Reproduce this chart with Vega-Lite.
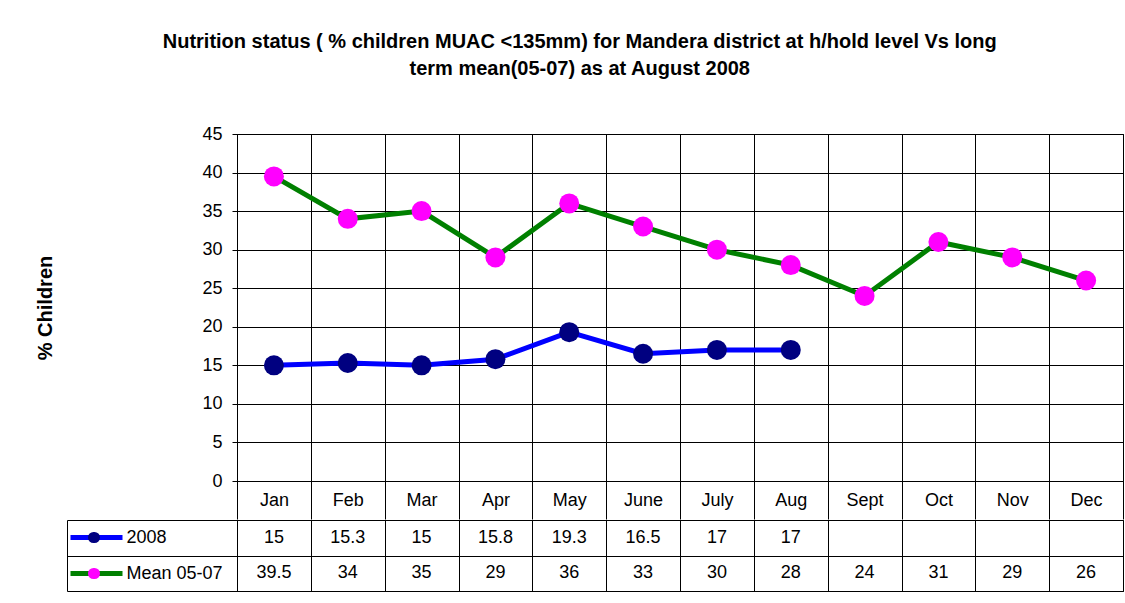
{
  "$schema": "https://vega.github.io/schema/vega-lite/v6.json",
  "padding": {"left": 35, "top": 31, "right": 0, "bottom": 0},
  "background": "#ffffff",
  "config": {
    "font": "Liberation Sans",
    "view": {"stroke": "#000000", "strokeWidth": 1},
    "axis": {"labelColor": "#000000", "tickColor": "#000000", "domainColor": "#000000", "gridColor": "#000000", "gridOpacity": 1, "titleColor": "#000000"}
  },
  "title": {
    "text": ["Nutrition status ( % children MUAC <135mm) for Mandera district at h/hold level Vs long", "term mean(05-07) as at August 2008"],
    "fontSize": 20,
    "fontWeight": "bold",
    "color": "#000000",
    "anchor": "middle",
    "lineHeight": 27,
    "offset": 46
  },
  "datasets": {
    "d": [
      {"month": "Jan", "series": "2008", "value": 15},
      {"month": "Feb", "series": "2008", "value": 15.3},
      {"month": "Mar", "series": "2008", "value": 15},
      {"month": "Apr", "series": "2008", "value": 15.8},
      {"month": "May", "series": "2008", "value": 19.3},
      {"month": "June", "series": "2008", "value": 16.5},
      {"month": "July", "series": "2008", "value": 17},
      {"month": "Aug", "series": "2008", "value": 17},
      {"month": "Jan", "series": "Mean 05-07", "value": 39.5},
      {"month": "Feb", "series": "Mean 05-07", "value": 34},
      {"month": "Mar", "series": "Mean 05-07", "value": 35},
      {"month": "Apr", "series": "Mean 05-07", "value": 29},
      {"month": "May", "series": "Mean 05-07", "value": 36},
      {"month": "June", "series": "Mean 05-07", "value": 33},
      {"month": "July", "series": "Mean 05-07", "value": 30},
      {"month": "Aug", "series": "Mean 05-07", "value": 28},
      {"month": "Sept", "series": "Mean 05-07", "value": 24},
      {"month": "Oct", "series": "Mean 05-07", "value": 31},
      {"month": "Nov", "series": "Mean 05-07", "value": 29},
      {"month": "Dec", "series": "Mean 05-07", "value": 26}
    ]
  },
  "spacing": -11,
  "vconcat": [
    {
      "width": 886,
      "height": 347,
      "data": {"name": "d"},
      "encoding": {
        "x": {
          "field": "month", "type": "nominal",
          "scale": {"type": "band", "paddingInner": 0, "paddingOuter": 0, "domain": ["Jan", "Feb", "Mar", "Apr", "May", "June", "July", "Aug", "Sept", "Oct", "Nov", "Dec"]},
          "axis": {"title": null, "orient": "bottom", "tickBand": "extent", "tickSize": 38, "labelPadding": -28, "labelAngle": 0, "labelFontSize": 18, "grid": true}
        },
        "y": {
          "field": "value", "type": "quantitative",
          "scale": {"domain": [0, 45], "nice": false},
          "axis": {"values": [0, 5, 10, 15, 20, 25, 30, 35, 40, 45], "title": "% Children", "titleFontSize": 20, "titleFontWeight": "bold", "titlePadding": 146, "labelFontSize": 18, "labelPadding": 10, "tickSize": 5, "grid": true}
        }
      },
      "layer": [
        {
          "mark": {"type": "line", "strokeWidth": 5},
          "encoding": {
            "stroke": {
              "field": "series", "type": "nominal",
              "scale": {"domain": ["2008", "Mean 05-07"], "range": ["#0000FF", "#008000"]},
              "legend": null
            }
          }
        },
        {
          "mark": {"type": "point", "filled": true, "shape": "circle", "size": 400, "opacity": 1},
          "encoding": {
            "fill": {
              "field": "series", "type": "nominal",
              "scale": {"domain": ["2008", "Mean 05-07"], "range": ["#000080", "#FF00FF"]},
              "legend": null
            }
          }
        }
      ]
    },
    {
      "width": 886,
      "height": 71,
      "data": {"name": "d"},
      "encoding": {
        "x": {
          "field": "month", "type": "nominal",
          "scale": {"type": "band", "paddingInner": 0, "paddingOuter": 0, "domain": ["Jan", "Feb", "Mar", "Apr", "May", "June", "July", "Aug", "Sept", "Oct", "Nov", "Dec"]},
          "axis": {"title": null, "labels": false, "ticks": false, "domain": false, "grid": true, "tickBand": "extent"}
        }
      },
      "layer": [
        {
          "mark": {"type": "text", "fontSize": 18, "color": "#000000"},
          "encoding": {
            "text": {"field": "value", "type": "quantitative"},
            "y": {
              "field": "series", "type": "nominal",
              "scale": {"domain": ["2008", "Mean 05-07"], "paddingInner": 0, "paddingOuter": 0},
              "axis": {"title": null, "orient": "left", "tickBand": "extent", "tickSize": 170, "labelAlign": "left", "labelPadding": -59, "labelFontSize": 18, "grid": true}
            }
          }
        },
        {
          "mark": {"type": "text", "fontSize": 18, "opacity": 0},
          "encoding": {
            "text": {"field": "value", "type": "quantitative"},
            "y": {
              "field": "series", "type": "nominal",
              "scale": {"domain": ["2008", "Mean 05-07"], "paddingInner": 0, "paddingOuter": 0},
              "axis": {"title": null, "orient": "left", "offset": 170, "ticks": false, "labels": false, "grid": false, "domain": true}
            }
          }
        },
        {
          "mark": {"type": "text", "fontSize": 18, "opacity": 0},
          "encoding": {
            "text": {"field": "value", "type": "quantitative"},
            "y": {
              "field": "series", "type": "nominal",
              "scale": {"domain": ["2008", "Mean 05-07"], "paddingInner": 0, "paddingOuter": 0},
              "axis": {"title": null, "orient": "left", "offset": 115, "ticks": true, "tickSize": 52, "tickWidth": 5, "tickColor": {"condition": {"test": "datum.value === '2008'", "value": "#0000FF"}, "value": "#008000"}, "labels": false, "grid": false, "domain": false, "zindex": 1}
            }
          }
        },
        {
          "mark": {"type": "text", "fontSize": 18, "opacity": 0},
          "encoding": {
            "text": {"field": "value", "type": "quantitative"},
            "y": {
              "field": "series", "type": "nominal",
              "scale": {"domain": ["2008", "Mean 05-07"], "paddingInner": 0, "paddingOuter": 0},
              "axis": {"title": null, "orient": "left", "offset": 143, "ticks": true, "tickSize": 1, "tickWidth": 11, "tickCap": "round", "tickColor": {"condition": {"test": "datum.value === '2008'", "value": "#000080"}, "value": "#FF00FF"}, "labels": false, "grid": false, "domain": false, "zindex": 2}
            }
          }
        }
      ],
      "resolve": {"axis": {"y": "independent"}}
    }
  ]
}
